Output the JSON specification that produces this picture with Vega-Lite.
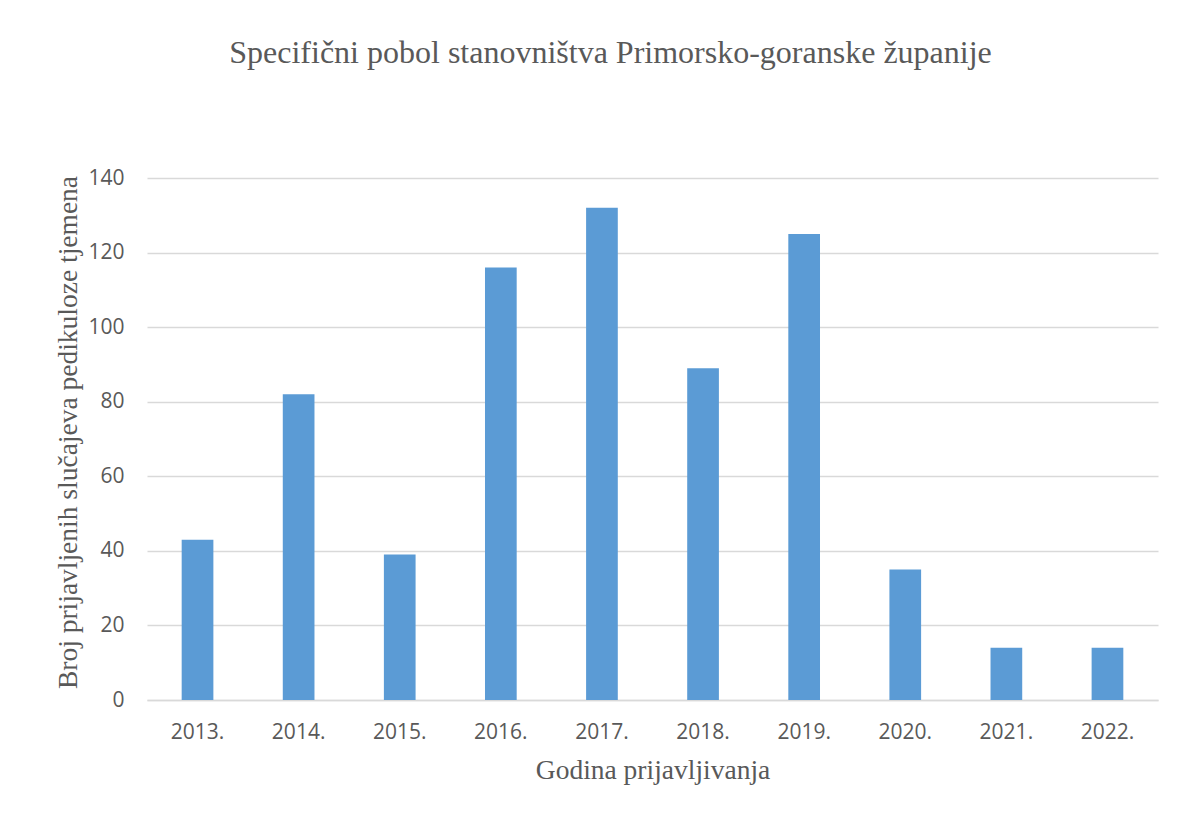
{
  "$schema": "https://vega.github.io/schema/vega-lite/v6.json",
  "autosize": {"type": "none"},
  "width": 1011,
  "height": 522,
  "padding": {"left": 147, "top": 178, "right": 39, "bottom": 121},
  "background": "white",
  "title": {
    "text": "Specifični pobol stanovništva Primorsko-goranske županije",
    "font": "Liberation Serif",
    "fontSize": 32,
    "fontWeight": "normal",
    "color": "#595959",
    "anchor": "middle",
    "dx": -42,
    "baseline": "alphabetic",
    "offset": 72
  },
  "data": {
    "values": [
      {"godina": "2013.", "broj": 43},
      {"godina": "2014.", "broj": 82},
      {"godina": "2015.", "broj": 39},
      {"godina": "2016.", "broj": 116},
      {"godina": "2017.", "broj": 132},
      {"godina": "2018.", "broj": 89},
      {"godina": "2019.", "broj": 125},
      {"godina": "2020.", "broj": 35},
      {"godina": "2021.", "broj": 14},
      {"godina": "2022.", "broj": 14}
    ]
  },
  "mark": {"type": "bar", "color": "#5B9BD5"},
  "encoding": {
    "x": {
      "field": "godina",
      "type": "ordinal",
      "sort": null,
      "scale": {"paddingInner": 0.6865, "paddingOuter": 0.343},
      "axis": {
        "title": "Godina prijavljivanja",
        "titleFont": "Liberation Serif",
        "titleFontSize": 27.5,
        "titleFontWeight": "normal",
        "titleColor": "#595959",
        "titleBaseline": "alphabetic",
        "titleY": 78,
        "labelAngle": 0,
        "labelFont": "Open Sans",
        "labelFontSize": 21,
        "labelColor": "#595959",
        "labelPadding": 21,
        "ticks": false,
        "domainColor": "#d9d9d9",
        "domainWidth": 1.5,
        "grid": false
      }
    },
    "y": {
      "field": "broj",
      "type": "quantitative",
      "scale": {"domain": [0, 140]},
      "axis": {
        "title": "Broj prijavljenih slučajeva pedikuloze tjemena",
        "titleFont": "Liberation Serif",
        "titleFontSize": 27.5,
        "titleFontWeight": "normal",
        "titleColor": "#595959",
        "titleX": -79,
        "titleY": 254,
        "titleAngle": -90,
        "titleBaseline": "middle",
        "titleAlign": "center",
        "values": [0, 20, 40, 60, 80, 100, 120, 140],
        "labelFont": "Open Sans",
        "labelFontSize": 21,
        "labelColor": "#595959",
        "labelPadding": 23,
        "ticks": false,
        "domain": false,
        "grid": true,
        "gridColor": "#d9d9d9",
        "gridWidth": 1.5
      }
    }
  },
  "config": {"view": {"stroke": null}}
}
